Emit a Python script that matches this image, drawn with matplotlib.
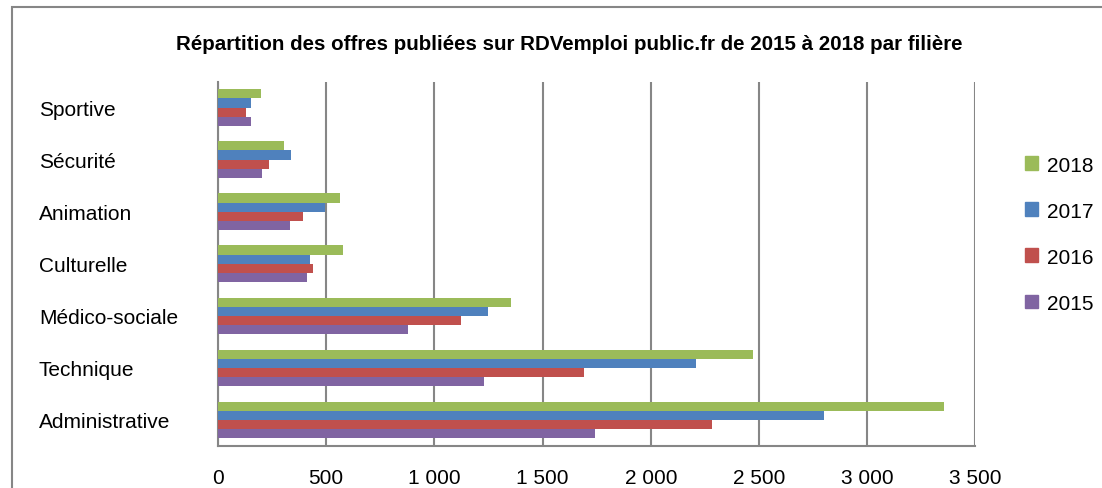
import matplotlib.pyplot as plt
import numpy as np
from matplotlib.patches import Patch, Rectangle

# categories, bottom to top
filieres = ['Administrative', 'Technique', 'Médico-sociale', 'Culturelle',
            'Animation', 'Sécurité', 'Sportive']
v2015 = [1744, 1231, 877, 412, 332, 205, 151]
v2016 = [2281, 1693, 1125, 438, 395, 236, 131]
v2017 = [2802, 2211, 1250, 426, 496, 337, 151]
v2018 = [3355, 2472, 1352, 580, 562, 307, 199]
annees = ['2015', '2016', '2017', '2018']
couleurs = ['#8064A2', '#C0504D', '#4F81BD', '#9BBB59']
xticks = [0, 500, 1000, 1500, 2000, 2500, 3000, 3500]
xlabels = ['0', '500', '1 000', '1 500', '2 000', '2 500', '3 000', '3 500']

plt.rcParams['font.family'] = ['Liberation Sans', 'DejaVu Sans']

fig = plt.figure(figsize=(11.02, 4.89), dpi=100)
ax = fig.add_axes([0.1978, 0.0859, 0.6873, 0.7453])

y = np.arange(len(filieres))
h = 0.176
series = [v2015, v2016, v2017, v2018]
for i, (vals, c) in enumerate(zip(series, couleurs)):
    ax.barh(y + (i - 1.5) * h, vals, height=h, color=c, zorder=3)

ax.set_xlim(0, 3500)
ax.set_ylim(-0.5, len(filieres) - 0.5)
ax.set_xticks(xticks)
ax.set_xticklabels(xlabels, fontsize=15)
ax.set_yticks(y)
ax.set_yticklabels(filieres, fontsize=15, ha='left')
ax.tick_params(axis='x', length=0, pad=16)
ax.tick_params(axis='y', length=0, pad=129)
ax.grid(axis='x', color='#868686', lw=1.5, zorder=0)
for s in ['top', 'right']:
    ax.spines[s].set_visible(False)
for s in ['left', 'bottom']:
    ax.spines[s].set_color('#868686')
    ax.spines[s].set_linewidth(1.5)

handles = [Patch(color=c, label=a) for a, c in zip(annees, couleurs)][::-1]
fig.legend(handles=handles, loc='center left', bbox_to_anchor=(0.913, 0.519),
           frameon=False, fontsize=15, handlelength=0.65, handleheight=0.65,
           handletextpad=0.4, labelspacing=1.3)

fig.text(0.517, 0.908, 'Répartition des offres publiées sur RDVemploi public.fr de 2015 à 2018 par filière',
         ha='center', va='center', fontsize=14.8, fontweight='bold')

# outer chart frame
fig.patches.append(Rectangle((12 / 1102, -0.1), 1.0, 1.1 - 8 / 489,
                             transform=fig.transFigure, fill=False,
                             edgecolor='#868686', lw=1.5))

fig.savefig('out.png', dpi=100)
